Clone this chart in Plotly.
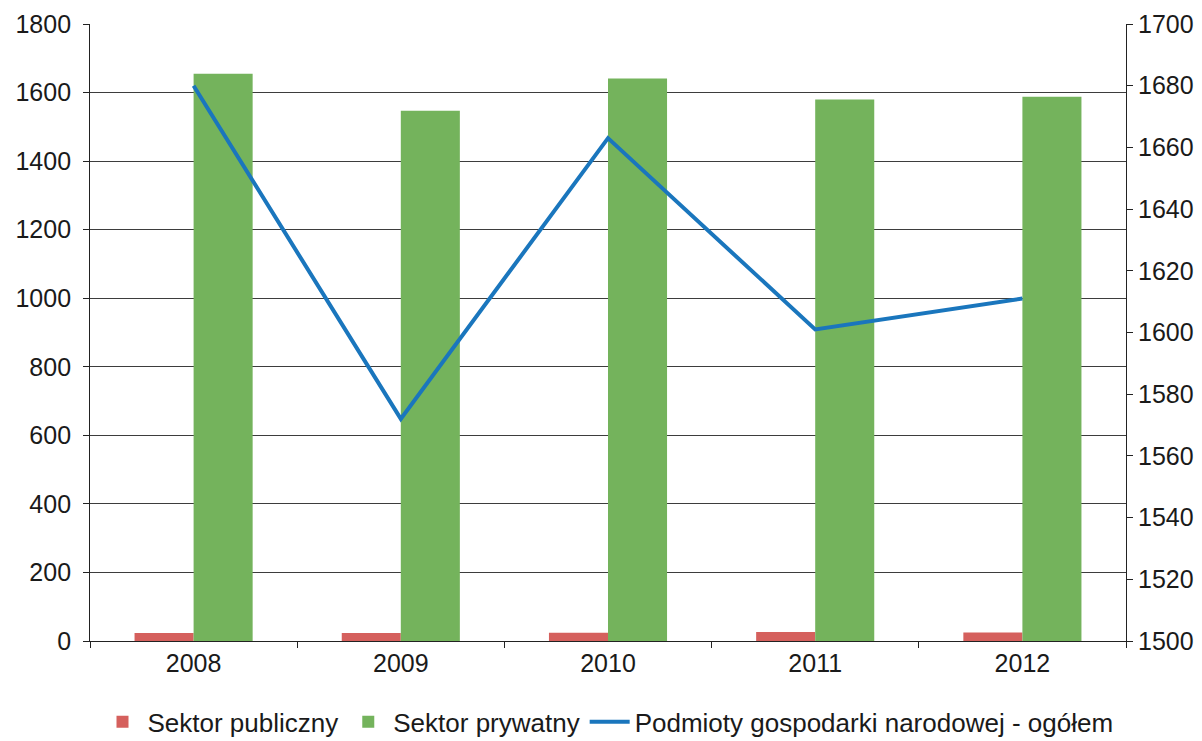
import plotly.graph_objects as go

years = ["2008", "2009", "2010", "2011", "2012"]
publiczny = [23, 23, 24, 26, 25]
prywatny = [1655, 1547, 1641, 1580, 1588]
ogolem = [1680, 1572, 1663, 1601, 1611]

FONT = "Liberation Sans, Arial, sans-serif"

fig = go.Figure()
fig.add_trace(go.Bar(x=years, y=publiczny, name="Sektor publiczny",
                     marker=dict(color="#d5605d", line=dict(width=0)), yaxis="y"))
fig.add_trace(go.Bar(x=years, y=prywatny, name="Sektor prywatny",
                     marker=dict(color="#74b35c", line=dict(width=0)), yaxis="y"))
fig.add_trace(go.Scatter(x=years, y=ogolem, name="Podmioty gospodarki narodowej - ogółem",
                         mode="lines", line=dict(color="#1a76bd", width=4), yaxis="y2"))

fig.update_layout(
    width=1194, height=733,
    margin=dict(l=82, r=76, t=16, b=100, autoexpand=False),
    paper_bgcolor="white", plot_bgcolor="white",
    font=dict(family=FONT, size=25, color="#1a1a1a"),
    barmode="group", bargap=0.43, bargroupgap=0,
    showlegend=True,
    legend=dict(orientation="h", x=0.5, xanchor="center", y=-0.131, yanchor="middle",
                font=dict(size=26, color="#1a1a1a"), itemwidth=40,
                traceorder="normal", bgcolor="rgba(0,0,0,0)"),
    xaxis=dict(type="category", showline=True, linecolor="#222", linewidth=1,
               ticks="outside", tickson="boundaries", ticklen=6, tickcolor="#222",
               showgrid=False, tickfont=dict(size=25), automargin=False),
    yaxis=dict(range=[0, 1800], dtick=200, showgrid=True, gridcolor="#3d3d3d", gridwidth=1,
               showline=True, linecolor="#222", linewidth=1, ticks="outside", ticklen=6,
               tickcolor="#222", zeroline=False, tickfont=dict(size=25), automargin=False,
               ticksuffix=" "),
    yaxis2=dict(range=[1500, 1700], dtick=20, overlaying="y", side="right", showgrid=False,
                showline=True, linecolor="#222", linewidth=1, ticks="outside", ticklen=6,
                tickcolor="#222", zeroline=False, tickfont=dict(size=25), automargin=False),
)

fig.write_html("out.html")
